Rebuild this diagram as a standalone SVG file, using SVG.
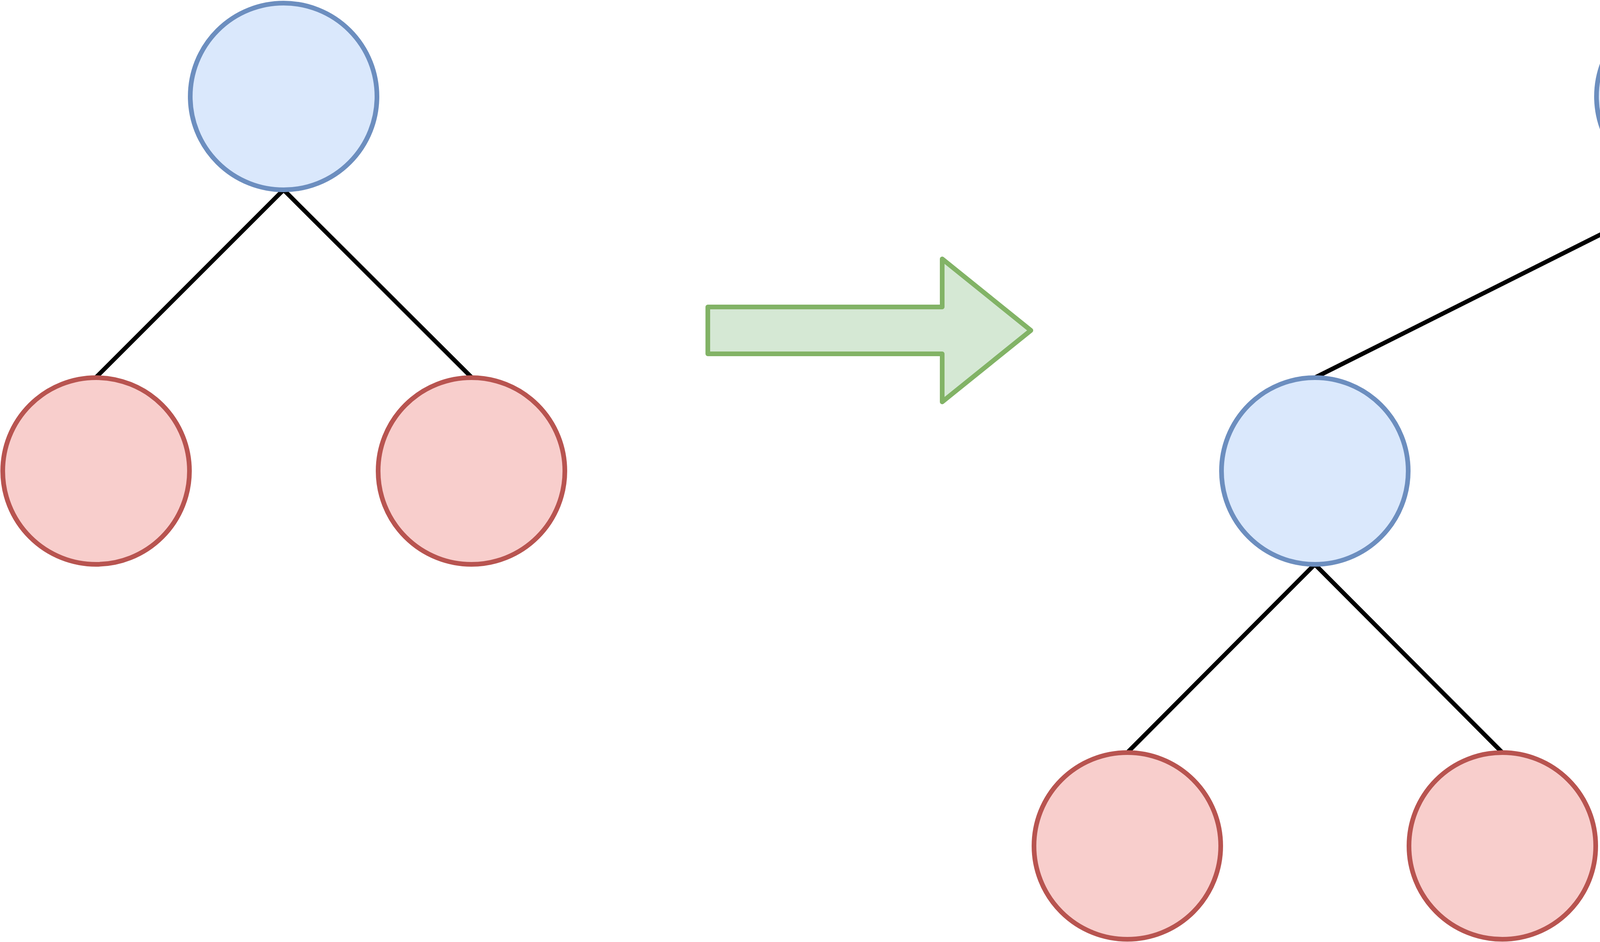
<svg xmlns="http://www.w3.org/2000/svg" width="6852" height="2412" viewBox="0 0 6852 2412">
<style>
.inner{fill:#dae8fc;stroke:#6c8ebf;stroke-width:12}
.leaf{fill:#f8cecc;stroke:#b85450;stroke-width:12}
.arrow{fill:#d5e8d4;stroke:#82b366;stroke-width:12;stroke-linejoin:round}
.edge{stroke:#000;stroke-width:11;fill:none}
</style>
<rect width="6852" height="2412" fill="#fff"/>
<g id="connectors">
<line class="edge" x1="726" y1="486" x2="246" y2="966"/>
<line class="edge" x1="726" y1="486" x2="1207" y2="966"/>
<line class="edge" x1="4326" y1="486" x2="3366" y2="967"/>
<line class="edge" x1="4326" y1="486" x2="5286" y2="967"/>
<line class="edge" x1="3366" y1="1445" x2="2886" y2="1927"/>
<line class="edge" x1="3366" y1="1445" x2="3846" y2="1927"/>
<line class="edge" x1="5286" y1="1445" x2="4806" y2="1927"/>
<line class="edge" x1="5286" y1="1445" x2="5766" y2="1927"/>
</g>
<g id="tree1-root"><circle class="inner" cx="726" cy="247" r="239"/></g>
<g id="tree1-leaf-left"><circle class="leaf" cx="246" cy="1206" r="239"/></g>
<g id="tree1-leaf-right"><circle class="leaf" cx="1207" cy="1206" r="239"/></g>
<g id="arrow-1"><polygon class="arrow" points="1812,786 2412,786 2412,663 2639,846 2412,1029 2412,906 1812,906"/></g>
<g id="tree2-root"><circle class="inner" cx="4326" cy="247" r="239"/></g>
<g id="tree2-mid-left"><circle class="inner" cx="3366" cy="1206" r="239"/></g>
<g id="tree2-mid-right"><circle class="inner" cx="5286" cy="1206" r="239"/></g>
<g id="tree2-leaf-1"><circle class="leaf" cx="2886" cy="2166" r="239"/></g>
<g id="tree2-leaf-2"><circle class="leaf" cx="3846" cy="2166" r="239"/></g>
<g id="tree2-leaf-3"><circle class="leaf" cx="4806" cy="2166" r="239"/></g>
<g id="tree2-leaf-4"><circle class="leaf" cx="5766" cy="2166" r="239"/></g>
<g id="arrow-2"><polygon class="arrow" points="6016,786 6616,786 6616,663 6843,846 6616,1029 6616,906 6016,906"/></g>
</svg>
